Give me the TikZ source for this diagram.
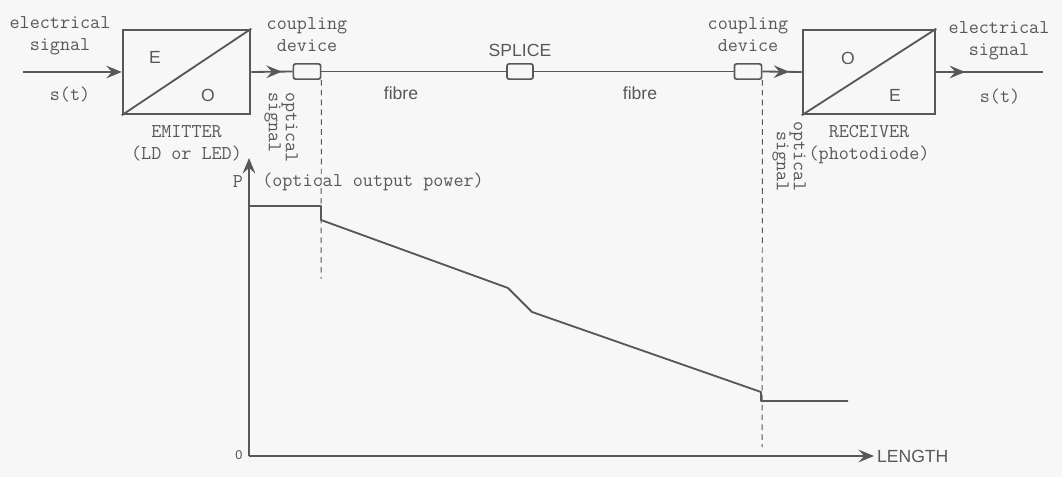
\documentclass[tikz,border=0pt]{standalone}
\usepackage{fontspec}
\newfontfamily\sansfont{Liberation Sans}
\usetikzlibrary{arrows.meta, positioning, decorations.markings}
\definecolor{ink}{HTML}{585858}
\definecolor{paper}{HTML}{F7F7F7}

\begin{document}
\begin{tikzpicture}[x=0.025cm, y=-0.025cm, node distance=0.25cm,
    mono/.style={font=\ttfamily\fontsize{13.9}{15.6}\selectfont, text=ink, inner sep=0pt, align=center},
    sans/.style={font=\sansfont\fontsize{12.5}{15}\selectfont, text=ink, inner sep=0pt},
    conv/.style={rectangle, draw=ink, line width=1.8pt, minimum height=2.1cm, inner sep=0pt},
    joint/.style={rectangle, draw=ink, line width=1.2pt, rounded corners=1.5pt, minimum width=0.68cm, minimum height=0.38cm, inner sep=0pt},
    line/.style={ink, line width=1.3pt},
    tip/.style={-{Stealth[length=11pt, width=9pt, inset=4pt]}},
    midarrow/.style={postaction={decorate}, decoration={markings, mark=at position #1 with {\arrow{Stealth[length=11pt, width=9pt, inset=4pt]}}}},
    guide/.style={ink, line width=0.7pt, dash pattern=on 4pt off 3pt}]
    \fill[paper] (0,0) rectangle (1062,477);

    % emitter side
    \coordinate (in) at (23,72);
    \node [conv, minimum width=3.175cm] (emitter) at (186.5,72) {};
    \draw [line] (emitter.south west) -- (emitter.north east);
    \node [sans] (emE) at (155,57) {E};
    \node [sans] (emO) at (208,95) {O};
    \node [mono, below=of emitter] (emtxt) {EMITTER\\(LD or LED)};
    \node [mono] (insig) at (60,36) {electrical\\signal};
    \node [mono] (ins) at (70,95) {s(t)};
    \draw [line, tip] (in) -- (emitter.west);

    % fibre link
    \node [joint] (cplL) at (307,71.5) {};
    \node [joint, minimum width=0.65cm] (splice) at (520,71.5) {};
    \node [joint] (cplR) at (748,71.5) {};
    \node [mono, above=0.28cm of cplL] (cplLtxt) {coupling\\device};
    \node [mono, above=0.28cm of cplR] (cplRtxt) {coupling\\device};
    \node [sans, above=0.15cm of splice] (splicetxt) {SPLICE};
    \node [sans] (fibL) at (401,93) {fibre};
    \node [sans] (fibR) at (640,93) {fibre};
    \draw [line, midarrow=0.74] (emitter.east) -- (cplL.west);
    \draw [line] (cplL.east) -- (splice.west);
    \draw [line] (splice.east) -- (cplR.west);

    % receiver side
    \coordinate (out) at (1043,72);
    \node [conv, minimum width=3.3cm] (receiver) at (869,72) {};
    \draw [line] (receiver.south west) -- (receiver.north east);
    \node [sans] (rcO) at (848,58) {O};
    \node [sans] (rcE) at (895,95) {E};
    \node [mono, below=of receiver] (rctxt) {RECEIVER\\(photodiode)};
    \node [mono] (outsig) at (999,41) {electrical\\signal};
    \node [mono] (outs) at (1000,97) {s(t)};
    \draw [line, midarrow=0.68] (cplR.east) -- (receiver.west);
    \draw [line, midarrow=0.27] (receiver.east) -- (out);

    % optical signal markers
    \coordinate (cutL) at (321,279);
    \coordinate (cutR) at (762,447);
    \draw [guide] (cplL.south east) -- (cutL);
    \draw [guide] (cplR.south east) -- (cutR);
    \node [mono, rotate=-90, anchor=north west, align=left] (optL) at (298,92) {optical\\[-3.6pt]signal};
    \node [mono, rotate=-90, anchor=north west, align=right] (optR) at (806,121) {optical\\[-3.6pt]signal};

    % power along the link
    \coordinate (orig) at (249,456);
    \coordinate (ptop) at (249,158);
    \coordinate (lend) at (874,456);
    \draw [line, tip] (orig) -- (ptop);
    \draw [line, tip] (orig) -- (lend);
    \node [mono] (ptxt) at (238,182) {P};
    \node [mono, anchor=west] (powtxt) at (262,182) {(optical output power)};
    \node [sans, right=2pt of lend] (lentxt) {LENGTH};
    \node [sans, font=\sansfont\fontsize{9}{10}\selectfont] (zero) at (239,455) {0};
    \draw [line, line join=round] (249,206) -- (321,206) -- (321,220) -- (508,288) -- (532,312)
        -- (761,392) -- (761,401) -- (848,401);
\end{tikzpicture}
\end{document}
